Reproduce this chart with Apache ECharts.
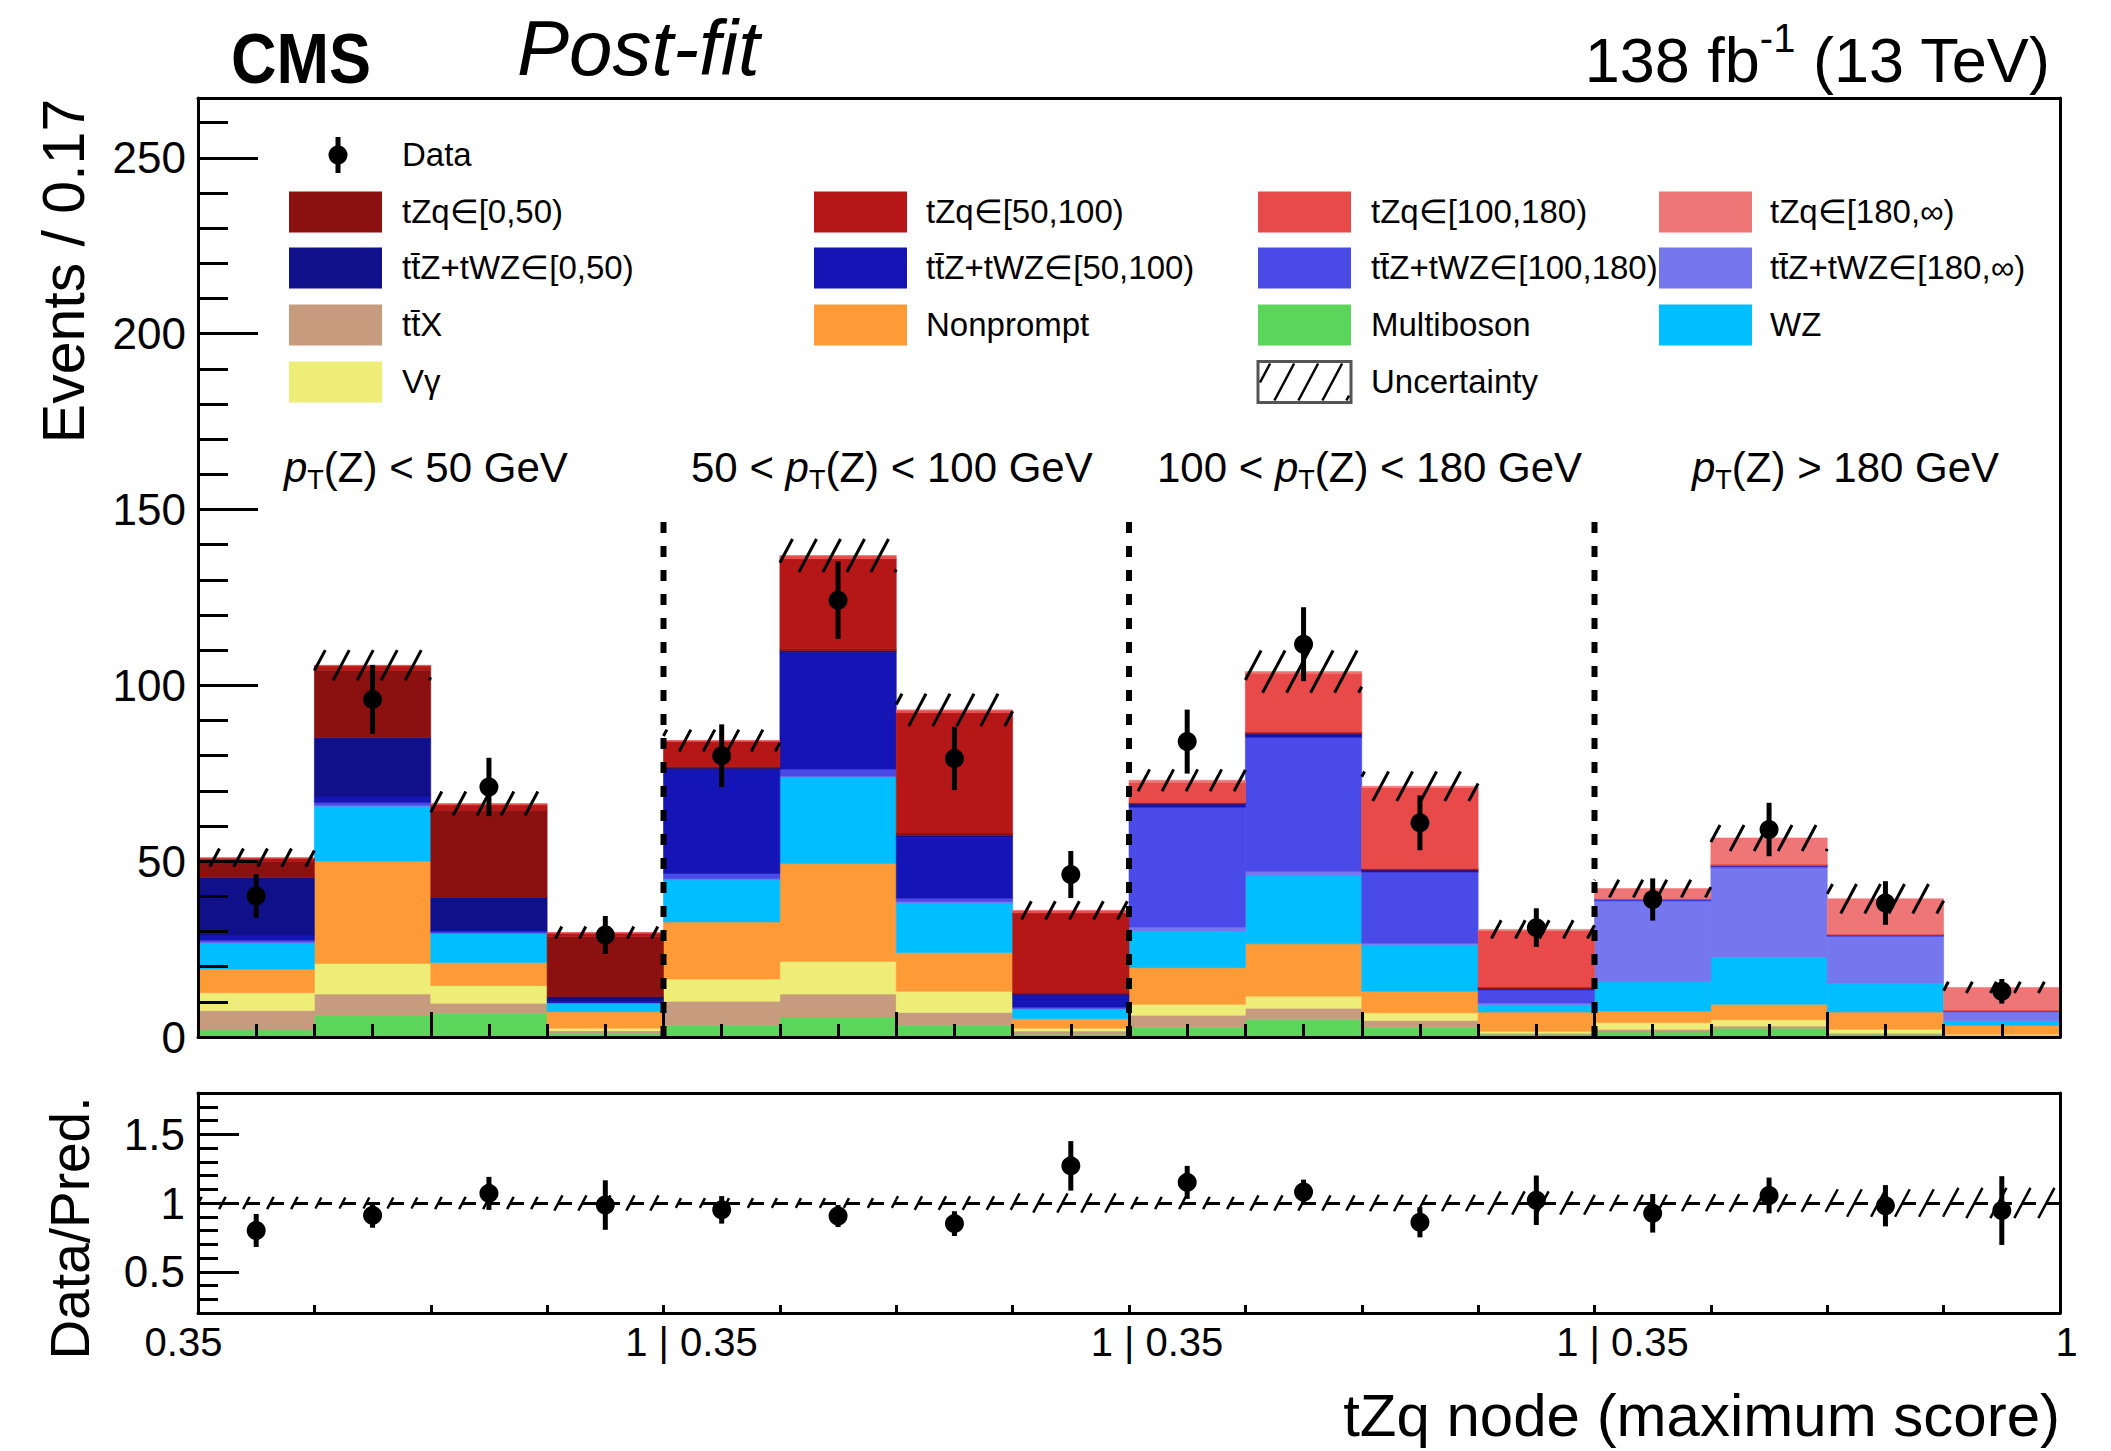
<!DOCTYPE html>
<html>
<head>
<meta charset="utf-8">
<title>tZq node (maximum score) - post-fit</title>
<script src="https://cdn.jsdelivr.net/npm/echarts@6.0.0/dist/echarts.min.js"></script>
<style>
  html, body { margin: 0; padding: 0; background: #ffffff; }
  #chart { width: 2111px; height: 1451px; }
</style>
</head>
<body>
<div id="chart"></div>
<script>
// Binning: four pT(Z) regions, each with four bins of the tZq node score (0.35 - 1)
const binCount = 16;
const regionEdges = [4, 8, 12];
const separatorTop = 148;

// Post-fit yields per bin (events / 0.17), listed from the bottom of the stack upwards
const multiboson = [2.0, 6.2, 6.7, 1.0, 3.3, 5.7, 3.3, 0.8, 2.8, 4.9, 2.8, 0.8, 1.4, 2.5, 0.8, 0.3];
const ttX        = [5.5, 6.0, 2.9, 0.8, 6.9, 6.5, 3.7, 0.9, 3.4, 3.3, 1.9, 0.3, 0.8, 0.6, 0.3, 0.2];
const vGamma     = [5.1, 8.7, 5.0, 0.7, 6.3, 9.3, 6.0, 0.8, 3.1, 3.4, 2.2, 0.5, 1.9, 1.8, 1.1, 0.3];
const nonprompt  = [6.7, 29.1, 6.6, 4.7, 16.2, 27.8, 11.0, 2.7, 10.4, 14.9, 6.1, 5.5, 3.3, 4.4, 4.9, 2.5];
const wz         = [7.5, 15.6, 8.3, 2.4, 12.0, 24.5, 14.2, 2.8, 10.4, 19.4, 13.2, 2.1, 8.3, 13.4, 8.2, 1.3];
const ttZ180     = [0.2, 0.3, 0.1, 0.1, 0.3, 0.4, 0.3, 0.1, 1.2, 1.2, 0.5, 0.5, 22.9, 25.4, 13.3, 2.6];
const ttZ100     = [0.6, 0.8, 0.3, 0.1, 1.5, 2.0, 1.0, 0.4, 34.0, 38.1, 20.2, 3.7, 0.4, 0.5, 0.2, 0.2];
const ttZ50      = [1.4, 1.8, 0.5, 0.2, 29.5, 33.1, 17.3, 3.5, 0.8, 0.8, 0.5, 0.3, 0.1, 0.1, 0.1, 0.0];
const ttZ0       = [16.3, 16.6, 9.3, 1.5, 0.5, 0.5, 0.5, 0.2, 0.2, 0.2, 0.1, 0.1, 0.0, 0.0, 0.0, 0.0];
const tZq0       = [4.7, 19.2, 24.8, 17.0, 0.5, 0.7, 0.7, 0.3, 0.1, 0.1, 0.1, 0.1, 0.0, 0.0, 0.0, 0.0];
const tZq50      = [0.8, 1.2, 1.5, 1.0, 7.0, 25.5, 34.2, 22.8, 0.3, 0.4, 0.3, 0.3, 0.0, 0.1, 0.1, 0.1];
const tZq100     = [0.2, 0.2, 0.3, 0.2, 0.3, 0.8, 0.7, 0.6, 5.7, 16.7, 23.0, 16.0, 0.3, 0.4, 0.3, 0.2];
const tZq180     = [0.0, 0.0, 0.1, 0.0, 0.0, 0.1, 0.1, 0.1, 0.6, 0.5, 0.4, 0.4, 2.8, 7.4, 10.0, 6.4];

// Total post-fit uncertainty (half width of the hatched band)
const totalUncertainty = [2.6, 4.3, 3.4, 1.7, 3.1, 4.7, 4.6, 2.6, 3.1, 6.0, 4.2, 2.6, 2.5, 3.7, 4.2, 1.6];

// Observed data
const dataYields = [40.1, 96.0, 71.1, 29.0, 80.0, 124.2, 79.2, 46.2, 84.0, 111.7, 60.9, 31.1, 39.1, 59.0, 38.1, 13.0];
const dataErrors = [6.2, 9.8, 8.3, 5.4, 8.9, 11.0, 9.0, 6.7, 9.1, 10.5, 7.8, 5.5, 6.0, 7.6, 6.2, 3.5];

// Data / prediction
const ratioValues = [0.80, 0.91, 1.07, 0.985, 0.95, 0.905, 0.85, 1.27, 1.15, 1.08, 0.86, 1.02, 0.925, 1.055, 0.98, 0.945];
const ratioErrors = [0.12, 0.09, 0.12, 0.18, 0.10, 0.08, 0.09, 0.18, 0.12, 0.09, 0.11, 0.18, 0.14, 0.13, 0.15, 0.25];
const ratioBand   = [0.045, 0.04, 0.045, 0.055, 0.035, 0.035, 0.05, 0.07, 0.045, 0.055, 0.06, 0.085, 0.06, 0.065, 0.10, 0.11];

// Ticks and tick labels
const mainYTickValues = [0, 50, 100, 150, 200, 250];
const mainYMinorTickValues = [10, 20, 30, 40, 60, 70, 80, 90, 110, 120, 130, 140, 160, 170, 180, 190, 210, 220, 230, 240, 260];
const mainXLongTicks = [2, 4, 6, 8, 10, 12, 14];
const mainXShortTicks = [0.5, 1, 1.5, 2.5, 3, 3.5, 4.5, 5, 5.5, 6.5, 7, 7.5, 8.5, 9, 9.5, 10.5, 11, 11.5, 12.5, 13, 13.5, 14.5, 15, 15.5];
const ratioYTickValues = [0.5, 1, 1.5];
const ratioYMinorTickValues = [0.3, 0.4, 0.6, 0.7, 0.8, 0.9, 1.1, 1.2, 1.3, 1.4, 1.6, 1.7];
const ratioXTicks = [1, 2, 3, 4, 5, 6, 7, 8, 9, 10, 11, 12, 13, 14, 15];
const scoreEdgeValues = [0, 4, 8, 12, 16];
const scoreEdgeLabels = ['0.35', '1 | 0.35', '1 | 0.35', '1 | 0.35', '1'];

// Region titles: [text before pT, text after pT]
const regionTitles = [['', '(Z) < 50 GeV'], ['50 < ', '(Z) < 100 GeV'], ['100 < ', '(Z) < 180 GeV'], ['', '(Z) > 180 GeV']];

// Process colours
const COLORS = {
  multiboson: '#5bd65b', ttX: '#c79b7e', vGamma: '#eeed77', nonprompt: '#ff9b37', wz: '#00beff',
  ttZ180: '#7676ee', ttZ100: '#4a4ae8', ttZ50: '#1515b5', ttZ0: '#10108b',
  tZq0: '#8b1010', tZq50: '#b51616', tZq100: '#e84a4a', tZq180: '#ef7676'
};

const TT = 'tt\u0304';
const stack = [
  { name: 'Multiboson', values: multiboson, color: COLORS.multiboson },
  { name: TT + 'X', values: ttX, color: COLORS.ttX },
  { name: 'V\u03b3', values: vGamma, color: COLORS.vGamma },
  { name: 'Nonprompt', values: nonprompt, color: COLORS.nonprompt },
  { name: 'WZ', values: wz, color: COLORS.wz },
  { name: TT + 'Z+tWZ\u2208[180,\u221e)', values: ttZ180, color: COLORS.ttZ180 },
  { name: TT + 'Z+tWZ\u2208[100,180)', values: ttZ100, color: COLORS.ttZ100 },
  { name: TT + 'Z+tWZ\u2208[50,100)', values: ttZ50, color: COLORS.ttZ50 },
  { name: TT + 'Z+tWZ\u2208[0,50)', values: ttZ0, color: COLORS.ttZ0 },
  { name: 'tZq\u2208[0,50)', values: tZq0, color: COLORS.tZq0 },
  { name: 'tZq\u2208[50,100)', values: tZq50, color: COLORS.tZq50 },
  { name: 'tZq\u2208[100,180)', values: tZq100, color: COLORS.tZq100 },
  { name: 'tZq\u2208[180,\u221e)', values: tZq180, color: COLORS.tZq180 }
];

// ---------------------------------------------------------------------------
const FONT = '"Liberation Sans", Arial, Helvetica, sans-serif';
const HATCH_STEP = 24;
const HATCH_SLOPE = 1.875;

const measureCtx = document.createElement('canvas').getContext('2d');
function cssFont(size, italic, bold) {
  return (italic ? 'italic ' : 'normal ') + (bold ? 'bold ' : 'normal ') + size + 'px ' + FONT;
}
function measure(text, font) { measureCtx.font = font; return measureCtx.measureText(text).width; }

// Sequence of text pieces sharing one baseline (used for sub/superscripts)
function textRun(pieces, x, baseline, align) {
  const fonts = pieces.map(p => cssFont(p.size, p.italic, p.bold));
  const widths = pieces.map((p, k) => measure(p.text, fonts[k]) * (p.scaleX || 1));
  const total = widths.reduce((a, b) => a + b, 0);
  let cx = align === 'right' ? x - total : x;
  return pieces.map((p, k) => {
    const el = {
      type: 'text', x: cx, y: baseline - (p.rise || 0) - 0.35 * p.size, z: 30, silent: true,
      scaleX: p.scaleX || 1,
      style: { text: p.text, font: fonts[k], fill: '#000', align: 'left', verticalAlign: 'middle' }
    };
    cx += widths[k];
    return el;
  });
}

// Diagonal hatch lines clipped to a pixel rectangle; phase is global so neighbours line up
function hatchSegments(x0, x1, yTop, yBot) {
  const segs = [];
  const bStart = Math.floor((x0 + yTop / HATCH_SLOPE) / HATCH_STEP) * HATCH_STEP;
  const bEnd = x1 + yBot / HATCH_SLOPE;
  for (let b = bStart; b <= bEnd; b += HATCH_STEP) {
    const yA = Math.max(yTop, (b - x1) * HATCH_SLOPE);
    const yB = Math.min(yBot, (b - x0) * HATCH_SLOPE);
    if (yB - yA > 0.5) segs.push([b - yB / HATCH_SLOPE, yB, b - yA / HATCH_SLOPE, yA]);
  }
  return segs;
}

// ---- Series -----------------------------------------------------------------
const cumulative = new Array(binCount).fill(0);
const stackSeries = stack.map(proc => {
  const rows = proc.values.map((v, i) => {
    const lo = cumulative[i];
    cumulative[i] += v;
    return [i, lo, cumulative[i]];
  });
  return {
    type: 'custom', name: proc.name, xAxisIndex: 0, yAxisIndex: 0, z: 2, silent: true,
    itemStyle: { color: proc.color },
    encode: { x: 0, y: [1, 2] },
    data: rows,
    renderItem: function (params, api) {
      const i = api.value(0), lo = api.value(1), hi = api.value(2);
      if (hi - lo <= 0) return null;
      const p0 = api.coord([i, lo]);
      const p1 = api.coord([i + 1, hi]);
      return {
        type: 'rect',
        shape: { x: p0[0], y: p1[1], width: p1[0] - p0[0], height: p0[1] - p1[1] },
        style: { fill: proc.color, stroke: proc.color, lineWidth: 0.6 }
      };
    }
  };
});
const totalPrediction = cumulative.slice();

function hatchRender(width) {
  return function (params, api) {
    const i = api.value(0), lo = api.value(1), hi = api.value(2);
    const p0 = api.coord([i, lo]);
    const p1 = api.coord([i + 1, hi]);
    const segs = hatchSegments(p0[0], p1[0], p1[1], p0[1]);
    return {
      type: 'group',
      children: segs.map(s => ({
        type: 'line', shape: { x1: s[0], y1: s[1], x2: s[2], y2: s[3] },
        style: { stroke: '#000', lineWidth: width }
      }))
    };
  };
}

function errorBarRender(params, api) {
  const x = api.value(0), lo = api.value(1), hi = api.value(2);
  const a = api.coord([x, lo]);
  const b = api.coord([x, hi]);
  return { type: 'line', shape: { x1: a[0], y1: a[1], x2: b[0], y2: b[1] }, style: { stroke: '#000', lineWidth: 5 } };
}

const series = stackSeries.concat([
  {
    type: 'custom', name: 'Uncertainty', xAxisIndex: 0, yAxisIndex: 0, z: 3, silent: true,
    encode: { x: 0, y: [1, 2] },
    data: totalPrediction.map((t, i) => [i, t - totalUncertainty[i], t + totalUncertainty[i]]),
    renderItem: hatchRender(3)
  },
  {
    type: 'custom', name: 'Region separators', xAxisIndex: 0, yAxisIndex: 0, z: 4, silent: true,
    encode: { x: 0, y: [1, 2] },
    data: regionEdges.map(e => [e, 0, separatorTop]),
    renderItem: function (params, api) {
      const a = api.coord([api.value(0), api.value(1)]);
      const b = api.coord([api.value(0), api.value(2)]);
      return { type: 'line', shape: { x1: a[0], y1: a[1], x2: b[0], y2: b[1] },
        style: { stroke: '#000', lineWidth: 6, lineDash: [11, 13] } };
    }
  },
  {
    type: 'custom', name: 'Data errors', xAxisIndex: 0, yAxisIndex: 0, z: 5, silent: true,
    encode: { x: 0, y: [1, 2] },
    data: dataYields.map((d, i) => [i + 0.5, d - dataErrors[i], d + dataErrors[i]]),
    renderItem: errorBarRender
  },
  {
    type: 'scatter', name: 'Data', xAxisIndex: 0, yAxisIndex: 0, z: 6, silent: true,
    symbol: 'circle', symbolSize: 19, itemStyle: { color: '#000', opacity: 1 },
    data: dataYields.map((d, i) => [i + 0.5, d])
  },
  {
    type: 'custom', name: 'Ratio band', xAxisIndex: 3, yAxisIndex: 3, z: 3, silent: true,
    encode: { x: 0, y: [1, 2] },
    data: ratioBand.map((u, i) => [i, 1 - u, 1 + u]),
    renderItem: hatchRender(2.5)
  },
  {
    type: 'custom', name: 'Ratio errors', xAxisIndex: 3, yAxisIndex: 3, z: 5, silent: true,
    encode: { x: 0, y: [1, 2] },
    data: ratioValues.map((r, i) => [i + 0.5, r - ratioErrors[i], r + ratioErrors[i]]),
    renderItem: errorBarRender
  },
  {
    type: 'scatter', name: 'Ratio', xAxisIndex: 3, yAxisIndex: 3, z: 6, silent: true,
    symbol: 'circle', symbolSize: 19, itemStyle: { color: '#000', opacity: 1 },
    data: ratioValues.map((r, i) => [i + 0.5, r]),
    markLine: {
      silent: true, symbol: ['none', 'none'], label: { show: false }, animation: false,
      lineStyle: { color: '#000', width: 3, type: [14, 10] },
      data: [{ yAxis: 1 }]
    }
  }
]);

// ---- Axes -------------------------------------------------------------------
const lineStyle = { color: '#000', width: 3 };
function frameAxis(extra) {
  return Object.assign({
    type: 'value', splitLine: { show: false }, axisLabel: { show: false },
    axisTick: { show: false }, axisLine: { show: true, onZero: false, lineStyle: lineStyle }, z: 10
  }, extra);
}
function tickAxis(extra, values, length) {
  return Object.assign({
    type: 'value', splitLine: { show: false }, axisLabel: { show: false },
    axisLine: { show: false },
    axisTick: { show: true, inside: true, length: length, customValues: values, lineStyle: lineStyle }, z: 10
  }, extra);
}

const xAxes = [
  Object.assign(frameAxis({ gridIndex: 0, min: 0, max: binCount, position: 'bottom' }),
    { axisTick: { show: true, inside: true, length: 25, customValues: mainXLongTicks, lineStyle: lineStyle } }),
  tickAxis({ gridIndex: 0, min: 0, max: binCount, position: 'bottom' }, mainXShortTicks, 13),
  frameAxis({ gridIndex: 0, min: 0, max: binCount, position: 'top' }),
  Object.assign(frameAxis({ gridIndex: 1, min: 0, max: binCount, position: 'bottom' }), {
    axisTick: { show: true, inside: true, length: 8, customValues: ratioXTicks, lineStyle: lineStyle },
    axisLabel: {
      show: true, customValues: scoreEdgeValues, margin: 9, color: '#000',
      fontFamily: FONT, fontSize: 40,
      formatter: function (v) {
        const k = scoreEdgeValues.indexOf(v);
        const style = k === 0 ? 'first' : (k === scoreEdgeValues.length - 1 ? 'last' : 'mid');
        return '{' + style + '|' + scoreEdgeLabels[k] + '}';
      },
      rich: {
        first: { fontFamily: FONT, fontSize: 40, color: '#000', padding: [0, 29, 0, 0] },
        mid: { fontFamily: FONT, fontSize: 40, color: '#000', padding: [0, 0, 0, 56] },
        last: { fontFamily: FONT, fontSize: 40, color: '#000', padding: [0, 0, 0, 13] }
      }
    }
  }),
  frameAxis({ gridIndex: 1, min: 0, max: binCount, position: 'top' })
];

const yAxes = [
  Object.assign(frameAxis({ gridIndex: 0, min: 0, max: 267, position: 'left' }), {
    axisTick: { show: true, inside: true, length: 60, customValues: mainYTickValues, lineStyle: lineStyle },
    axisLabel: { show: true, customValues: mainYTickValues, margin: 12, color: '#000', fontFamily: FONT, fontSize: 44 }
  }),
  tickAxis({ gridIndex: 0, min: 0, max: 267, position: 'left' }, mainYMinorTickValues, 30),
  frameAxis({ gridIndex: 0, min: 0, max: 267, position: 'right' }),
  Object.assign(frameAxis({ gridIndex: 1, min: 0.2, max: 1.8, position: 'left' }), {
    axisTick: { show: true, inside: true, length: 41, customValues: ratioYTickValues, lineStyle: lineStyle },
    axisLabel: { show: true, customValues: ratioYTickValues, margin: 13, color: '#000', fontFamily: FONT, fontSize: 44,
      formatter: v => String(v) }
  }),
  tickAxis({ gridIndex: 1, min: 0.2, max: 1.8, position: 'left' }, ratioYMinorTickValues, 20),
  frameAxis({ gridIndex: 1, min: 0.2, max: 1.8, position: 'right' })
];

// ---- Headline, region titles, legend, axis titles ----------------------------
const graphics = [];
graphics.push(...textRun([{ text: 'CMS', size: 70, bold: true, scaleX: 0.9 }], 231, 83, 'left'));
graphics.push(...textRun([{ text: 'Post-fit', size: 78, italic: true }], 517, 75, 'left'));
graphics.push(...textRun([
  { text: '138 fb', size: 63 }, { text: '-1', size: 40, rise: 30 }, { text: ' (13 TeV)', size: 63 }
], 2051, 82, 'right'));

const regionTitleLeft = [284, 691, 1157, 1692];
regionTitles.forEach((t, k) => {
  const pieces = [];
  if (t[0]) pieces.push({ text: t[0], size: 42 });
  pieces.push({ text: 'p', size: 42, italic: true });
  pieces.push({ text: 'T', size: 27, rise: -7 });
  pieces.push({ text: t[1], size: 42 });
  graphics.push(...textRun(pieces, regionTitleLeft[k], 482, 'left'));
});

// Legend
const legendBoxLeft = [289, 814, 1258, 1659];
const legendTextLeft = [402, 926, 1371, 1770];
const legendRowY = [155, 212, 268, 325, 382];
const BOX_W = 93, BOX_H = 41;
const legendEntries = [
  { label: 'Data', col: 0, row: 0, kind: 'data' },
  { label: 'tZq\u2208[0,50)', col: 0, row: 1, color: COLORS.tZq0 },
  { label: 'tZq\u2208[50,100)', col: 1, row: 1, color: COLORS.tZq50 },
  { label: 'tZq\u2208[100,180)', col: 2, row: 1, color: COLORS.tZq100 },
  { label: 'tZq\u2208[180,\u221e)', col: 3, row: 1, color: COLORS.tZq180 },
  { label: TT + 'Z+tWZ\u2208[0,50)', col: 0, row: 2, color: COLORS.ttZ0 },
  { label: TT + 'Z+tWZ\u2208[50,100)', col: 1, row: 2, color: COLORS.ttZ50 },
  { label: TT + 'Z+tWZ\u2208[100,180)', col: 2, row: 2, color: COLORS.ttZ100 },
  { label: TT + 'Z+tWZ\u2208[180,\u221e)', col: 3, row: 2, color: COLORS.ttZ180 },
  { label: TT + 'X', col: 0, row: 3, color: COLORS.ttX },
  { label: 'Nonprompt', col: 1, row: 3, color: COLORS.nonprompt },
  { label: 'Multiboson', col: 2, row: 3, color: COLORS.multiboson },
  { label: 'WZ', col: 3, row: 3, color: COLORS.wz },
  { label: 'V\u03b3', col: 0, row: 4, color: COLORS.vGamma },
  { label: 'Uncertainty', col: 2, row: 4, kind: 'hatch' }
];
legendEntries.forEach(e => {
  const bx = legendBoxLeft[e.col], cy = legendRowY[e.row];
  if (e.kind === 'data') {
    const mx = 338;
    graphics.push({ type: 'line', z: 30, silent: true, shape: { x1: mx, y1: cy - 18, x2: mx, y2: cy + 18 }, style: { stroke: '#000', lineWidth: 5 } });
    graphics.push({ type: 'circle', z: 30, silent: true, shape: { cx: mx, cy: cy, r: 9.5 }, style: { fill: '#000' } });
  } else if (e.kind === 'hatch') {
    const x0 = bx, y0 = cy - BOX_H / 2;
    graphics.push({ type: 'rect', z: 30, silent: true, shape: { x: x0, y: y0, width: BOX_W, height: BOX_H }, style: { fill: '#fff', stroke: '#555', lineWidth: 3 } });
    hatchSegments(x0 + 2, x0 + BOX_W - 2, y0 + 2, y0 + BOX_H - 2).forEach(s => {
      graphics.push({ type: 'line', z: 31, silent: true, shape: { x1: s[0], y1: s[1], x2: s[2], y2: s[3] }, style: { stroke: '#000', lineWidth: 2.5 } });
    });
  } else {
    graphics.push({ type: 'rect', z: 30, silent: true, shape: { x: bx, y: cy - BOX_H / 2, width: BOX_W, height: BOX_H }, style: { fill: e.color } });
  }
  graphics.push(...textRun([{ text: e.label, size: 33 }], legendTextLeft[e.col], cy + 11.5, 'left'));
});

// Axis titles
graphics.push({
  type: 'text', x: 64, y: 271, rotation: Math.PI / 2, z: 30, silent: true,
  style: { text: 'Events / 0.17', font: cssFont(59), fill: '#000', align: 'center', verticalAlign: 'middle' }
});
graphics.push({
  type: 'text', x: 70, y: 1228, rotation: Math.PI / 2, z: 30, silent: true,
  style: { text: 'Data/Pred.', font: cssFont(55), fill: '#000', align: 'center', verticalAlign: 'middle' }
});
graphics.push(...textRun([{ text: 'tZq node (maximum score)', size: 60 }], 2060, 1436, 'right'));

// ---- Chart ------------------------------------------------------------------
const chart = echarts.init(document.getElementById('chart'), null, { renderer: 'svg', width: 2111, height: 1451 });
chart.setOption({
  animation: false,
  backgroundColor: '#ffffff',
  grid: [
    { left: 198, top: 98, width: 1862, height: 939, show: false, containLabel: false, outerBoundsMode: 'none' },
    { left: 198, top: 1093, width: 1862, height: 220, show: false, containLabel: false, outerBoundsMode: 'none' }
  ],
  xAxis: xAxes,
  yAxis: yAxes,
  series: series,
  graphic: graphics
});
</script>
</body>
</html>
